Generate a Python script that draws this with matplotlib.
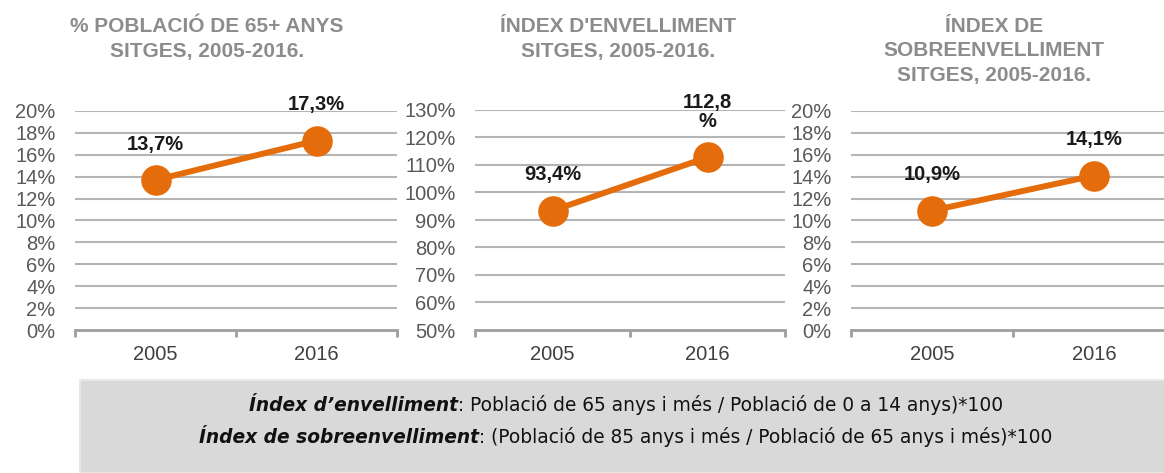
import matplotlib
matplotlib.use("Agg")
import matplotlib.pyplot as plt
from matplotlib.patches import Rectangle

# data
years = ["2005", "2016"]
pct_65 = [13.7, 17.3]
idx_envelliment = [93.4, 112.8]
idx_sobreenvelliment = [10.9, 14.1]

labels_65 = ["13,7%", "17,3%"]
labels_env = ["93,4%", "112,8\n%"]
labels_sobre = ["10,9%", "14,1%"]

titles = [
    ["% POBLACIÓ DE 65+ ANYS", "SITGES, 2005-2016."],
    ["ÍNDEX D'ENVELLIMENT", "SITGES, 2005-2016."],
    ["ÍNDEX DE", "SOBREENVELLIMENT", "SITGES, 2005-2016."],
]

W, H = 1164, 473
ORANGE = "#E46C0A"
plt.rcParams["font.family"] = ["Liberation Sans", "DejaVu Sans"]

fig = plt.figure(figsize=(W / 100, H / 100), dpi=100)


def px_axes(x0, x1, ytop, ybot):
    return fig.add_axes([x0 / W, 1 - ybot / H, (x1 - x0) / W, (ybot - ytop) / H])


def panel(ax, values, labels, yticks):
    xs = range(len(years))
    ax.set_xlim(-0.5, len(years) - 0.5)
    ax.set_ylim(yticks[0], yticks[-1])
    for y in yticks[1:]:
        ax.axhline(y, color="#B5B5B5", lw=1.5, zorder=1)
    ax.plot(xs, values, color=ORANGE, lw=4.3, marker="o", markersize=21,
            zorder=3, clip_on=False)
    for x, v, lab in zip(xs, values, labels):
        ax.annotate(lab, (x, v), xytext=(0, 19), textcoords="offset points",
                    ha="center", va="bottom", fontsize=14.5, fontweight="bold",
                    color="#1a1a1a", linespacing=1.0, zorder=4)
    for s in ["top", "right", "left"]:
        ax.spines[s].set_visible(False)
    ax.spines["bottom"].set_color("#9E9E9E")
    ax.spines["bottom"].set_linewidth(2)
    ax.set_yticks(yticks)
    ax.set_yticklabels([f"{t:g}%" for t in yticks])
    ax.tick_params(axis="y", length=0, pad=14, labelsize=14.5, labelcolor="#595959")
    ax.set_xticks([-0.5, 0.5, 1.5])
    ax.set_xticklabels(["", "", ""])
    ax.set_xticks(list(xs), minor=True)
    ax.set_xticklabels(years, minor=True)
    ax.tick_params(axis="x", which="major", length=5, width=2, color="#9E9E9E",
                   direction="out")
    ax.tick_params(axis="x", which="minor", length=0, pad=11, labelsize=14.5,
                   labelcolor="#404040")
    ax.set_facecolor("none")


ax1 = px_axes(75, 397, 111, 330)
panel(ax1, pct_65, labels_65, list(range(0, 21, 2)))
ax2 = px_axes(475, 785, 110, 330)
panel(ax2, idx_envelliment, labels_env, list(range(50, 131, 10)))
ax3 = px_axes(851, 1175, 111, 330)
panel(ax3, idx_sobreenvelliment, labels_sobre, list(range(0, 21, 2)))

title_x = [207, 618, 994]
for cx, lines in zip(title_x, titles):
    for i, line in enumerate(lines):
        fig.text(cx / W, 1 - (27 + 24 * i) / H, line, ha="center", va="center",
                 fontsize=15, fontweight="bold", color="#8C8C8C")

# note box
fig.patches.append(Rectangle((80 / W, 0), 1.2, 1 - 380 / H, transform=fig.transFigure,
                             facecolor="#D9D9D9", edgecolor="#E8E8E8", lw=1.5,
                             zorder=0))

notes = [
    ("Índex d\u2019envelliment", ": Població de 65 anys i més / Població de 0 a 14 anys)*100"),
    ("Índex de sobreenvelliment", ": (Població de 85 anys i més / Població de 65 anys i més)*100"),
]
renderer = fig.canvas.get_renderer()
for i, (bold, rest) in enumerate(notes):
    y = 1 - (405 + 32 * i) / H
    t1 = fig.text(0, y, bold, ha="left", va="center", fontsize=13.4,
                  fontweight="bold", style="italic", family="DejaVu Sans", color="#111111")
    t2 = fig.text(0, y, rest, ha="left", va="center", fontsize=13.4,
                  family="DejaVu Sans", color="#111111")
    w1 = t1.get_window_extent(renderer).width
    w2 = t2.get_window_extent(renderer).width
    start = 626 - (w1 + w2) / 2
    t1.set_x(start / W)
    t2.set_x((start + w1) / W)

fig.savefig("out.png", dpi=100)
